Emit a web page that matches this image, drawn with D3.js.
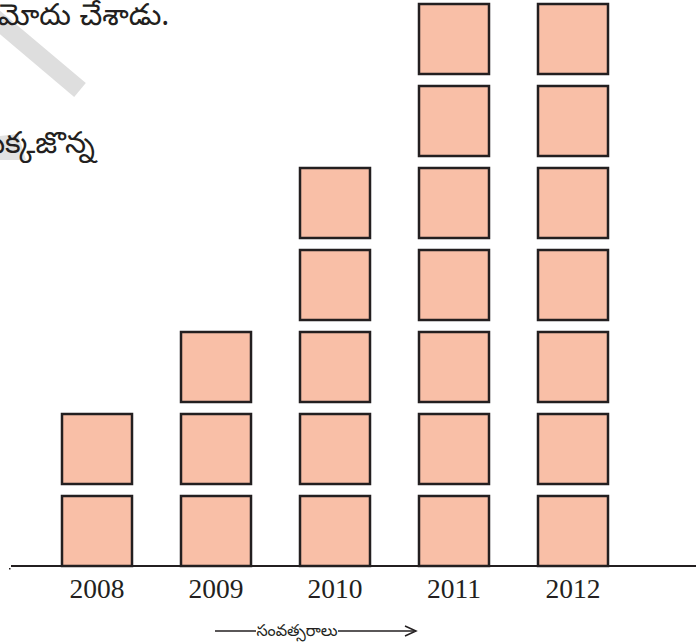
<!DOCTYPE html>
<html>
<head>
<meta charset="utf-8">
<script src="https://d3js.org/d3.v7.min.js"></script>
<style>
body { margin: 0; background: #fff; }
svg { display: block; }
.year { font-family: "Liberation Serif", "Times New Roman", serif; font-size: 27.5px; fill: #231f20; }
.te { font-family: "Noto Sans Telugu", "Noto Sans", sans-serif; fill: #231f20; }
</style>
</head>
<body>
<svg width="696" height="644"></svg>
<script>
// data: squares per year
var years = ["2008", "2009", "2010", "2011", "2012"];
var counts = [2, 3, 5, 7, 7];
var axisTitle = "సంవత్సరాలు";
var topText = "మోదు చేశాడు.";
var midText = "మొక్కజొన్న";

var svg = d3.select("svg");
var fill = "#f9bfa7", stroke = "#231f20";

// watermark stroke behind the text
svg.append("line").attr("x1", -10).attr("y1", 14).attr("x2", 80).attr("y2", 90)
   .attr("stroke", "#dedede").attr("stroke-width", 18);
svg.append("path").attr("d", "M0,136 L18,134 L26,160 L0,160 Z").attr("fill", "#e2e2e2");

svg.append("text").attr("class", "te").attr("x", -2).attr("y", 25)
   .style("font-size", "30px").text(topText);
svg.append("text").attr("class", "te").attr("x", -37).attr("y", 153)
   .style("font-size", "30px").text(midText);

var x = d3.scaleBand().domain(years).range([62, 608]).paddingInner(49 / 119).paddingOuter(0);
var y = d3.scaleLinear().domain([0, 7]).range([566, -8]);
var gap = 12;

var cells = [];
years.forEach(function (yr, i) {
  for (var k = 0; k < counts[i]; k++) cells.push({ year: yr, k: k });
});

svg.append("g").selectAll("rect").data(cells).enter().append("rect")
  .attr("x", function (d) { return x(d.year); })
  .attr("y", function (d) { return y(d.k + 1) + gap; })
  .attr("width", x.bandwidth())
  .attr("height", function (d) { return y(d.k) - y(d.k + 1) - gap; })
  .attr("fill", fill).attr("stroke", stroke).attr("stroke-width", 2.5);

// baseline
svg.append("line").attr("x1", 11).attr("x2", 696).attr("y1", 566).attr("y2", 566)
   .attr("stroke", stroke).attr("stroke-width", 2);
svg.append("rect").attr("x", 9).attr("y", 568).attr("width", 1.5).attr("height", 1.5).attr("fill", stroke);

svg.append("g").selectAll("text").data(years).enter().append("text")
  .attr("class", "year")
  .attr("x", function (d) { return x(d) + x.bandwidth() / 2; })
  .attr("y", 598).attr("text-anchor", "middle")
  .text(function (d) { return d; });

// axis title with arrow
svg.append("line").attr("x1", 215).attr("x2", 256).attr("y1", 631).attr("y2", 631)
   .attr("stroke", stroke).attr("stroke-width", 1.5);
svg.append("text").attr("class", "te").attr("x", 297).attr("y", 636)
   .attr("text-anchor", "middle").style("font-size", "16px").text(axisTitle);
svg.append("line").attr("x1", 338).attr("x2", 414).attr("y1", 631).attr("y2", 631)
   .attr("stroke", stroke).attr("stroke-width", 1.5);
svg.append("path").attr("d", "M405,626 L416,631 L405,636")
   .attr("fill", "none").attr("stroke", stroke).attr("stroke-width", 1.5);
</script>
</body>
</html>
